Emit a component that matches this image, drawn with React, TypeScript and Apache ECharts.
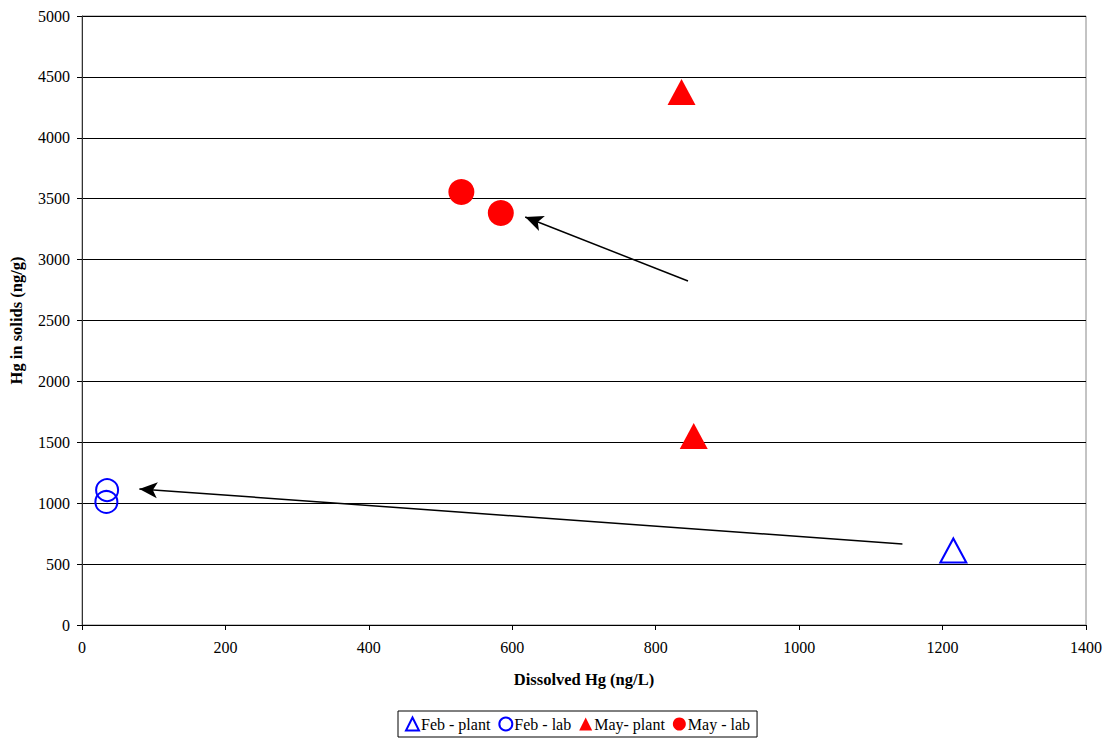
import React, { useEffect, useRef } from "react";
import * as echarts from "echarts";

const febPlant: number[][] = [[1215, 612]];
const febLab: number[][] = [[35, 1108], [34, 1010]];
const mayPlant: number[][] = [[836, 4376], [853, 1552]];
const mayLab: number[][] = [[529, 3555], [584, 3383]];
const arrow1: number[][] = [[845, 2824], [618, 3350]];
const arrow2: number[][] = [[1144, 665], [80, 1117]];

const serif = "'Liberation Serif', 'Times New Roman', serif";

export default function App() {
  const ref = useRef<HTMLDivElement>(null);
  useEffect(() => {
    const chart = echarts.init(ref.current!, undefined, { renderer: "svg" });
    const arrowLine = (pts: number[][]) => [
      { coord: pts[0], symbol: "none" },
      { coord: pts[1], symbol: "arrow", symbolSize: [12, 18] },
    ];
    const markLine = (pts: number[][]) => ({
      silent: true,
      animation: false,
      label: { show: false },
      lineStyle: { color: "#000", width: 1.5, type: "solid", opacity: 1 },
      emphasis: { disabled: true },
      data: [arrowLine(pts)],
    });
    chart.setOption({
      animation: false,
      backgroundColor: "#fff",
      textStyle: { fontFamily: serif },
      grid: { left: 80, top: 16, right: 23, bottom: 115, show: true, borderColor: "#888", borderWidth: 1 },
      xAxis: {
        type: "value",
        min: 0,
        max: 1400,
        interval: 200,
        name: "Dissolved Hg (ng/L)",
        nameLocation: "middle",
        nameGap: 46,
        nameTextStyle: { fontFamily: serif, fontWeight: "bold", fontSize: 16.5, color: "#000" },
        axisLine: { show: true, lineStyle: { color: "#000" } },
        axisTick: { show: true, length: 5, lineStyle: { color: "#000" } },
        axisLabel: { fontFamily: serif, fontSize: 16, color: "#000", margin: 14, formatter: (v: number) => String(v) },
        splitLine: { show: false },
      },
      yAxis: {
        type: "value",
        min: 0,
        max: 5000,
        interval: 500,
        name: "Hg in solids (ng/g)",
        nameLocation: "middle",
        nameGap: 57,
        nameTextStyle: { fontFamily: serif, fontWeight: "bold", fontSize: 16.5, color: "#000" },
        axisLine: { show: true, lineStyle: { color: "#333" } },
        axisTick: { show: true, length: 5, lineStyle: { color: "#000" } },
        axisLabel: { fontFamily: serif, fontSize: 16, color: "#000", margin: 12, formatter: (v: number) => String(v) },
        splitLine: { show: true, lineStyle: { color: "#000", width: 1 } },
      },
      legend: {
        bottom: 3,
        left: 398,
        orient: "horizontal",
        borderColor: "#000",
        borderWidth: 1,
        padding: [5, 7, 5, 7],
        itemGap: 8,
        itemWidth: 13,
        itemHeight: 13,
        textStyle: { fontFamily: serif, fontSize: 16, color: "#000", padding: [0, 0, 0, -3] },
        data: [
          { name: "Feb - plant", icon: "triangle", itemStyle: { color: "transparent", borderColor: "#0000ff", borderWidth: 2 } },
          { name: "Feb - lab", icon: "circle", itemStyle: { color: "transparent", borderColor: "#0000ff", borderWidth: 2 } },
          { name: "May- plant", icon: "triangle", itemStyle: { color: "#ff0000", opacity: 1 } },
          { name: "May - lab", icon: "circle", itemStyle: { color: "#ff0000", opacity: 1 } },
        ],
      },
      series: [
        {
          name: "Feb - plant",
          type: "scatter",
          data: febPlant,
          symbol: "triangle",
          symbolSize: [26, 24],
          itemStyle: { color: "transparent", borderColor: "#0000ff", borderWidth: 2, opacity: 1 },
          z: 5,
          markLine: markLine(arrow2),
        },
        {
          name: "Feb - lab",
          type: "scatter",
          data: febLab,
          symbol: "circle",
          symbolSize: 22,
          itemStyle: { color: "transparent", borderColor: "#0000ff", borderWidth: 2, opacity: 1 },
          z: 5,
        },
        {
          name: "May- plant",
          type: "scatter",
          data: mayPlant,
          symbol: "triangle",
          symbolSize: [28, 26],
          itemStyle: { color: "#ff0000", opacity: 1 },
          z: 5,
          markLine: markLine(arrow1),
        },
        {
          name: "May - lab",
          type: "scatter",
          data: mayLab,
          symbol: "circle",
          symbolSize: 26,
          itemStyle: { color: "#ff0000", opacity: 1 },
          z: 5,
        },
      ],
    });
    return () => chart.dispose();
  }, []);
  return (
    <div
      ref={ref}
      style={{ position: "fixed", left: 0, top: 0, width: 1109, height: 740, background: "#fff" }}
    />
  );
}
